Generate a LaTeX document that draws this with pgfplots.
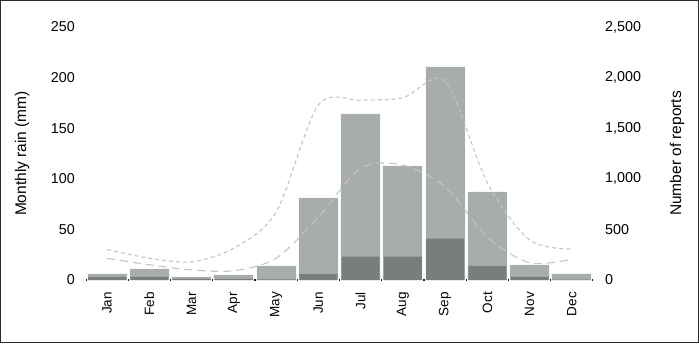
\documentclass[border=0pt]{standalone}
\usepackage{pgfplots}
\pgfplotsset{compat=1.18}
\usepackage{fontspec}
\setmainfont{Liberation Sans}
\definecolor{lightbar}{HTML}{A9ACAC}
\definecolor{darkbar}{HTML}{7A7D7D}
\definecolor{curve}{HTML}{C4C4C4}
\definecolor{frame}{HTML}{2A2A2A}
\begin{document}
\begin{tikzpicture}[x=1pt,y=1pt]
\useasboundingbox (0,0) rectangle (699,343);
\draw[frame,line width=1.2pt] (0.6,0.6) rectangle (698.4,342.4);
\begin{axis}[
  at={(86pt,63pt)}, anchor=south west,
  scale only axis, width=507pt, height=253pt,
  xmin=-0.5, xmax=11.5, ymin=0, ymax=250,
  axis x line*=bottom, axis y line*=left,
  x axis line style={line width=1.8pt, color=black!90, -},
  y axis line style={draw=none},
  xtick={0,...,11},
  xticklabels={Jan,Feb,Mar,Apr,May,Jun,Jul,Aug,Sep,Oct,Nov,Dec},
  xticklabel style={rotate=90, anchor=east, inner sep=0pt, xshift=-12pt, font=\fontsize{13.5}{13.5}\selectfont},
  ytick={0,50,100,150,200,250},
  yticklabel style={anchor=east, inner sep=0pt, xshift=-11pt, font=\fontsize{14.3}{14.3}\selectfont},
  /pgf/number format/assume math mode=true,
  major tick length=0pt,
  tick style={draw=none},
  ylabel={Monthly rain (mm)},
  ylabel style={font=\fontsize{15.5}{15.5}\selectfont, at={(axis description cs:-0.126,0.5)}, anchor=center},
  clip=false,
]
\addplot[ybar, bar width=40pt, bar shift=0pt, fill=lightbar, draw=white!90!lightbar, line width=1pt]
 coordinates {(0,6) (1,11) (2,3) (3,5) (4,14) (5,82) (6,165) (7,113) (8,211) (9,87) (10,15.5) (11,6)};
\addplot[ybar, bar width=38pt, bar shift=0pt, fill=darkbar, draw=none]
 coordinates {(0,3) (1,3) (2,1) (3,1) (4,0.5) (5,6) (6,23) (7,23) (8,41) (9,14) (10,3) (11,0.3)};
\end{axis}
\begin{axis}[
  at={(86pt,63pt)}, anchor=south west,
  scale only axis, width=507pt, height=253pt,
  xmin=-0.5, xmax=11.5, ymin=0, ymax=2500,
  axis x line=none, axis y line*=right,
  y axis line style={draw=none},
  ytick={0,500,1000,1500,2000,2500},
  yticklabel style={anchor=west, inner sep=0pt, xshift=12pt, font=\fontsize{14.3}{14.3}\selectfont, /pgf/number format/1000 sep={,}},
  /pgf/number format/assume math mode=true,
  scaled y ticks=false,
  major tick length=0pt,
  tick style={draw=none},
  ylabel={Number of reports},
  ylabel style={font=\fontsize{15.5}{15.5}\selectfont, at={(axis description cs:1.1657,0.5)}, anchor=center},
]
\addplot[smooth, curve, line width=1.1pt, dash pattern=on 4pt off 3pt]
 coordinates {(0,300) (1,215) (2,180) (3,315) (4,670) (5,1730) (6,1775) (7,1800) (8,1965) (9,960) (10,395) (11,306)};
\addplot[smooth, curve, line width=1.1pt, dash pattern=on 8pt off 5pt]
 coordinates {(0,215) (1,150) (2,100) (3,92) (4,215) (5,620) (6,1105) (7,1135) (8,920) (9,425) (10,170) (11,205)};
\end{axis}
\end{tikzpicture}
\end{document}
